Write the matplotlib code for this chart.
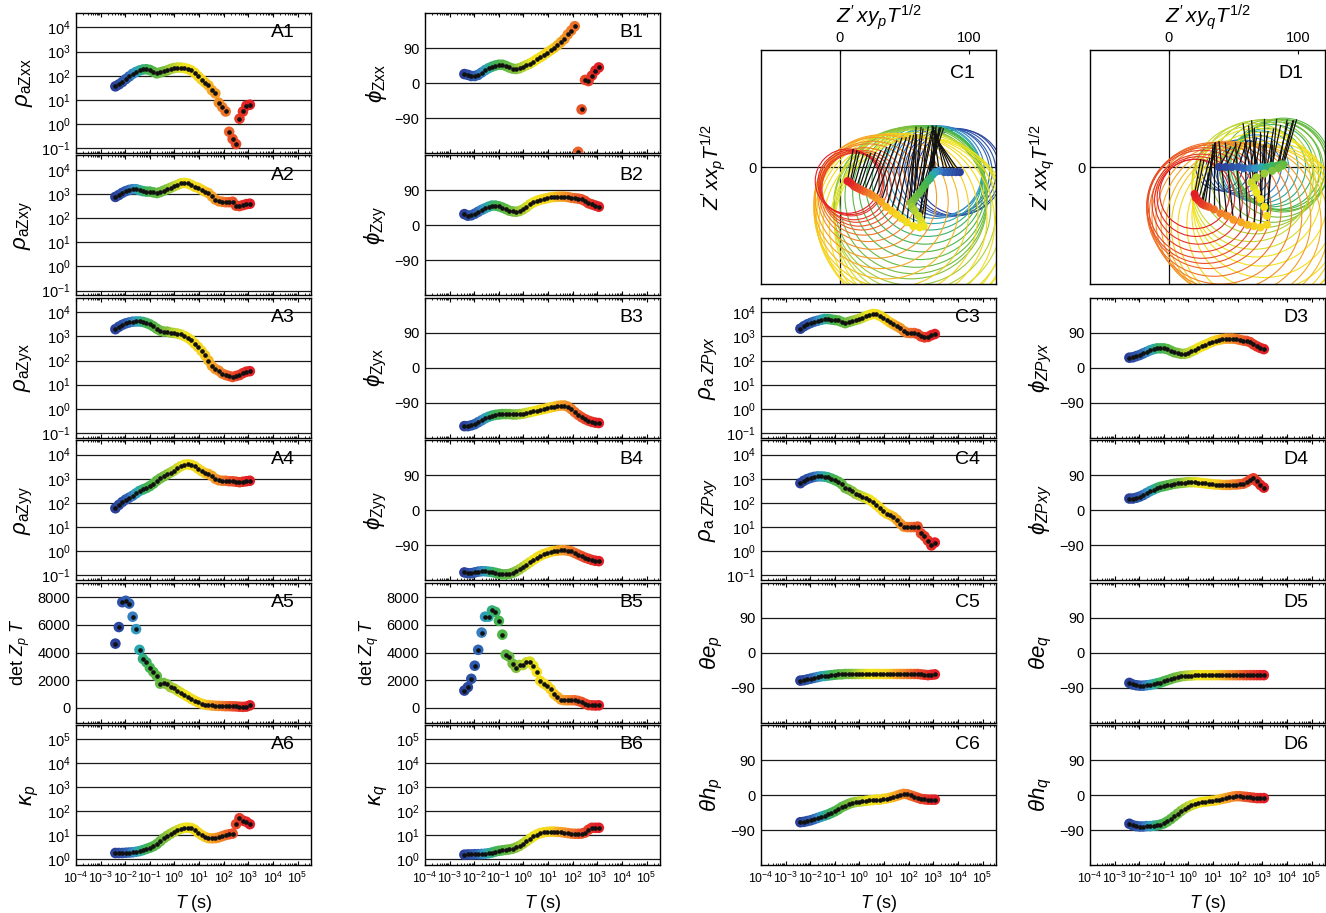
import numpy as np
import matplotlib as mpl
mpl.use("Agg")
import matplotlib.pyplot as plt
from matplotlib.colors import LinearSegmentedColormap
from matplotlib.patches import Circle
from matplotlib.ticker import LogLocator, NullLocator, NullFormatter, FixedLocator

mpl.rcParams.update(
    {
        "font.family": ["Liberation Sans", "DejaVu Sans"],
        "mathtext.fontset": "custom",
        "mathtext.rm": "Liberation Sans",
        "mathtext.it": "Liberation Sans:italic",
        "mathtext.bf": "Liberation Sans:bold",
        "mathtext.fallback": "cm",
        "xtick.direction": "in",
        "ytick.direction": "in",
        "xtick.top": True,
        "ytick.right": True,
        "xtick.labelsize": 8.9,
        "ytick.labelsize": 10.5,
        "axes.linewidth": 1.0,
    }
)

# ------------------------------------------------------------------
# data (log10 of period, then one list per panel)
# ------------------------------------------------------------------
log_T = [-2.40, -2.26, -2.12, -1.98, -1.84, -1.70, -1.56, -1.42, -1.28, -1.14,
         -1.00, -0.86, -0.72, -0.58, -0.44, -0.30, -0.16, -0.02, 0.12, 0.26,
         0.40, 0.54, 0.68, 0.82, 0.96, 1.10, 1.24, 1.38, 1.52, 1.66,
         1.80, 1.94, 2.08, 2.22, 2.36, 2.50, 2.64, 2.78, 2.92, 3.06]

# apparent resistivities, log10(ohm m)
rho_xx = [1.56, 1.64, 1.74, 1.86, 1.97, 2.08, 2.16, 2.22, 2.26, 2.27,
          2.24, 2.17, 2.10, 2.14, 2.18, 2.22, 2.28, 2.32, 2.34, 2.34,
          2.32, 2.28, 2.22, 2.12, 1.98, 1.84, 1.72, 1.60, 1.40, 1.27,
          0.88, 0.70, 0.52, -0.32, -0.62, -0.83, 0.22, 0.52, 0.76, 0.80]
rho_xy = [2.88, 2.96, 3.05, 3.12, 3.17, 3.20, 3.20, 3.16, 3.12, 3.10,
          3.10, 3.07, 3.04, 3.08, 3.14, 3.20, 3.26, 3.32, 3.38, 3.44,
          3.46, 3.44, 3.38, 3.30, 3.26, 3.18, 3.10, 3.04, 2.90, 2.77,
          2.70, 2.68, 2.66, 2.66, 2.68, 2.52, 2.50, 2.54, 2.58, 2.60]
rho_yx = [3.30, 3.40, 3.48, 3.54, 3.58, 3.61, 3.62, 3.62, 3.60, 3.56,
          3.50, 3.42, 3.32, 3.24, 3.20, 3.20, 3.16, 3.14, 3.12, 3.08,
          3.02, 2.94, 2.84, 2.70, 2.56, 2.40, 2.22, 2.00, 1.78, 1.65,
          1.58, 1.46, 1.40, 1.36, 1.32, 1.36, 1.40, 1.48, 1.54, 1.56]
rho_yy = [1.78, 1.92, 2.04, 2.14, 2.22, 2.30, 2.40, 2.50, 2.56, 2.62,
          2.70, 2.80, 2.92, 3.02, 3.10, 3.18, 3.26, 3.34, 3.44, 3.52,
          3.58, 3.60, 3.58, 3.52, 3.42, 3.32, 3.24, 3.20, 3.12, 3.00,
          2.94, 2.92, 2.92, 2.90, 2.90, 2.88, 2.86, 2.88, 2.90, 2.92]
det_Zp_T = [4650, 5850, 7650, 7750, 7550, 6600, 5700, 4200, 3550, 3300,
            2900, 2600, 2300, 1750, 1800, 1700, 1500, 1400, 1250, 1100,
            950, 800, 650, 520, 400, 300, 230, 200, 170, 150,
            140, 130, 120, 120, 110, 100, 80, 70, 90, 180]
kappa_p = [0.25, 0.25, 0.25, 0.26, 0.27, 0.28, 0.30, 0.33, 0.37, 0.42,
           0.47, 0.53, 0.62, 0.74, 0.86, 0.96, 1.05, 1.13, 1.20, 1.26,
           1.30, 1.31, 1.29, 1.22, 1.10, 1.00, 0.92, 0.87, 0.86, 0.87,
           0.90, 0.95, 1.00, 1.03, 1.06, 1.45, 1.70, 1.60, 1.55, 1.45]

# phases (degrees)
phi_xx = [23, 21, 18, 18, 21, 27, 33, 38, 42, 45,
          47, 47, 44, 40, 37, 36, 38, 42, 46, 50,
          55, 61, 66, 72, 78, 84, 90, 97, 105, 113,
          125, 135, 146, -177, -68, 8, 5, 19, 32, 40]
phi_xy = [29, 25, 26, 30, 35, 40, 44, 48, 51, 51,
          49, 46, 42, 38, 36, 35, 37, 41, 47, 54,
          59, 63, 66, 68, 70, 72, 73, 74, 74, 74,
          73, 71, 70, 69, 67, 63, 57, 54, 51, 48]
phi_yx = [-150, -150, -148, -145, -140, -135, -130, -126, -123, -121,
          -120, -119, -119, -119, -120, -120, -119, -118, -116, -114,
          -112, -110, -108, -106, -104, -102, -100, -98, -97, -97,
          -100, -106, -114, -121, -127, -132, -136, -139, -141, -142]
phi_yy = [-160, -162, -162, -160, -158, -157, -157, -158, -159, -161,
          -163, -165, -165, -164, -161, -157, -152, -146, -140, -134,
          -128, -122, -117, -113, -110, -107, -105, -104, -103, -103,
          -104, -106, -110, -114, -118, -122, -125, -128, -130, -131]
det_Zq_T = [1250, 1500, 2100, 3050, 4200, 5450, 6600, 6600, 7050, 6950,
            6300, 5300, 3850, 3700, 3200, 2900, 3100, 3100, 3300, 3350,
            3050, 2600, 1950, 1750, 1600, 1350, 1000, 800, 600, 550,
            550, 550, 550, 500, 420, 300, 200, 180, 170, 180]
kappa_q = [0.18, 0.19, 0.19, 0.20, 0.20, 0.21, 0.22, 0.24, 0.27, 0.31,
           0.34, 0.36, 0.38, 0.40, 0.43, 0.48, 0.55, 0.64, 0.74, 0.84,
           0.94, 1.02, 1.08, 1.11, 1.13, 1.14, 1.14, 1.13, 1.12, 1.10,
           1.08, 1.06, 1.05, 1.05, 1.06, 1.10, 1.22, 1.30, 1.30, 1.30]

rho_ZPyx = [3.32, 3.42, 3.50, 3.56, 3.61, 3.65, 3.69, 3.72, 3.72, 3.70,
            3.68, 3.66, 3.60, 3.55, 3.60, 3.64, 3.68, 3.72, 3.78, 3.84,
            3.89, 3.93, 3.92, 3.86, 3.78, 3.68, 3.58, 3.50, 3.42, 3.34,
            3.22, 3.15, 3.14, 3.14, 3.10, 3.00, 2.96, 2.98, 3.05, 3.10]
rho_ZPxy = [2.82, 2.92, 2.99, 3.04, 3.08, 3.10, 3.10, 3.09, 3.06, 3.01,
            2.95, 2.88, 2.78, 2.62, 2.56, 2.48, 2.38, 2.32, 2.26, 2.20,
            2.14, 2.04, 1.92, 1.80, 1.66, 1.56, 1.50, 1.42, 1.30, 1.14,
            1.02, 1.00, 1.00, 1.00, 1.02, 0.74, 0.62, 0.44, 0.24, 0.36]
theta_ep = [-72, -71, -69, -67, -65, -63, -61, -60, -59, -58,
            -57, -56, -56, -55, -55, -55, -55, -55, -55, -55,
            -55, -55, -55, -55, -55, -55, -55, -55, -55, -55,
            -55, -55, -55, -55, -55, -56, -57, -58, -57, -56]
theta_hp = [-70, -69, -67, -65, -62, -59, -56, -53, -50, -46,
            -42, -37, -31, -27, -23, -20, -18, -17, -16, -15,
            -14, -13, -12, -12, -10, -9, -7, -5, -2, 1,
            3, 2, -1, -4, -7, -10, -11, -12, -12, -12]

phi_ZPyx = [26, 27, 30, 33, 37, 41, 45, 48, 50, 50,
            50, 48, 44, 40, 38, 36, 36, 38, 42, 46,
            51, 55, 59, 63, 67, 70, 72, 74, 75, 75,
            75, 74, 72, 70, 69, 66, 60, 55, 51, 48]
phi_ZPxy = [30, 30, 32, 35, 39, 44, 49, 53, 57, 60,
            62, 64, 66, 68, 69, 70, 71, 72, 72, 72,
            71, 70, 69, 68, 67, 66, 66, 65, 65, 65,
            66, 66, 67, 68, 72, 78, 82, 74, 65, 58]
theta_eq = [-78, -82, -84, -85, -85, -84, -83, -81, -79, -77,
            -74, -71, -68, -65, -63, -61, -60, -59, -59, -58,
            -58, -58, -58, -58, -58, -58, -58, -58, -58, -58,
            -58, -58, -58, -58, -58, -58, -58, -58, -58, -58]
theta_hq = [-74, -78, -80, -81, -81, -80, -80, -79, -78, -76,
            -73, -68, -62, -55, -48, -41, -35, -30, -26, -23,
            -20, -18, -17, -16, -15, -14, -12, -10, -8, -6,
            -4, -3, -3, -4, -5, -6, -7, -8, -8, -8]

# circle diagrams: centre x, centre y, radius, direction of radius line (deg)
c1_cx = [93, 90, 87, 84, 81, 77, 74, 72, 70, 68, 66, 64, 62, 59, 57, 55, 56, 58, 61, 63,
         65, 62, 57, 52, 48, 44, 40, 36, 32, 28, 25, 22, 19, 17, 15, 13, 11, 9, 8, 6]
c1_cy = [-4, -4, -4, -4, -4, -3, -4, -6, -9, -11, -14, -17, -20, -23, -26, -28, -31, -34, -38, -42,
         -46, -47, -46, -43, -40, -37, -34, -31, -27, -24, -22, -20, -19, -18, -17, -16, -15, -13, -12, -11]
c1_r = [33, 34, 34, 34, 35, 35, 36, 38, 40, 43, 46, 49, 52, 55, 57, 59, 61, 63, 65, 67,
        69, 70, 70, 68, 66, 63, 60, 56, 52, 47, 42, 38, 34, 31, 29, 27, 26, 25, 25, 25]
c1_ang = [125, 120, 114, 108, 102, 98, 94, 86, 80, 76, 72, 74, 78, 80, 84, 86, 82, 78, 76, 80,
          84, 86, 88, 84, 80, 78, 76, 74, 72, 70, 70, 68, 68, 70, 72, 72, 74, 76, 78, 80]

d1_cx = [39, 44, 49, 54, 58, 63, 67, 72, 76, 80, 84, 87, 89, 88, 85, 80, 74, 68, 64, 66,
         68, 71, 74, 76, 76, 71, 66, 61, 56, 50, 45, 40, 35, 31, 28, 26, 25, 23, 21, 20]
d1_cy = [0, 0, 0, 0, -1, -1, -1, 0, 0, 1, 1, 2, 2, 1, -1, -3, -5, -8, -12, -16,
         -20, -25, -31, -38, -45, -47, -46, -45, -43, -41, -38, -36, -33, -31, -30, -29, -28, -26, -24, -21]
d1_r = [18, 19, 20, 21, 22, 24, 26, 28, 30, 32, 34, 35, 36, 36, 38, 40, 42, 44, 46, 48,
        50, 52, 55, 58, 62, 64, 64, 63, 62, 60, 58, 55, 52, 48, 45, 42, 38, 34, 30, 27]
d1_ang = [60, 65, 70, 72, 75, 78, 80, 80, 80, 78, 76, 75, 74, 76, 80, 85, 90, 95, 98, 95,
          92, 90, 88, 86, 86, 88, 90, 92, 94, 96, 96, 94, 90, 86, 82, 78, 75, 75, 78, 80]

# ------------------------------------------------------------------
T = 10.0 ** np.array(log_T)
cmap = LinearSegmentedColormap.from_list(
    "period",
    [(0.00, "#2a3f98"), (0.10, "#2f62b5"), (0.14, "#3a8dc8"), (0.17, "#27a6b8"),
     (0.20, "#2fae84"), (0.26, "#46b549"), (0.38, "#7cbf3d"), (0.45, "#bcd630"),
     (0.52, "#f2e61b"), (0.66, "#f6d11f"), (0.72, "#f6a623"), (0.80, "#f17f29"),
     (0.88, "#ea4e27"), (1.00, "#e21f26")],
)
colors = cmap(np.linspace(0, 1, len(T)))

W, H = 1326, 913
fig = plt.figure(figsize=(W / 100, H / 100), dpi=100)

COL_LEFT = {"A": 76, "B": 425, "C": 761, "D": 1090}
PANEL_W = 235
ROW_TOP0, ROW_PITCH, ROW_H = 13, 142.4, 140
GRID_KW = dict(color="#1a1a1a", lw=0.9)


def make_axes(left, top, w, h):
    return fig.add_axes([left / W, 1 - (top + h) / H, w / W, h / H])


def time_axes(col, row, bottom=False):
    ax = make_axes(COL_LEFT[col], ROW_TOP0 + ROW_PITCH * row, PANEL_W, ROW_H)
    ax.set_xscale("log")
    ax.set_xlim(1e-4, 3.5e5)
    ax.xaxis.set_major_locator(LogLocator(base=10, numticks=20))
    ax.xaxis.set_minor_locator(LogLocator(base=10, subs=np.arange(2, 10), numticks=20))
    ax.tick_params(axis="x", which="major", length=3, width=0.8, pad=4)
    ax.tick_params(axis="x", which="minor", length=1.6, width=0.6)
    ax.tick_params(axis="y", length=0, pad=4)
    if bottom:
        ax.set_xlabel(r"$T$ (s)", fontsize=13, labelpad=5)
    else:
        ax.xaxis.set_major_formatter(NullFormatter())
    ax.xaxis.set_minor_formatter(NullFormatter())
    ax.text(0.93, 0.86, f"{col}{row + 1}", transform=ax.transAxes,
            ha="right", va="center", fontsize=14)
    return ax


def plot_series(ax, vals, log=False):
    y = 10.0 ** np.array(vals) if log else np.array(vals)
    ax.scatter(T, y, s=58, c=colors, edgecolors="none", zorder=3)
    ax.plot(T, y, ls="none", marker="o", ms=2.3, color="#111111", zorder=4)


def style_log(ax, lo, hi, ylabel):
    ax.set_yscale("log")
    ax.set_ylim(lo, hi)
    ax.yaxis.set_major_locator(LogLocator(base=10, numticks=20))
    ax.yaxis.set_minor_locator(NullLocator())
    ax.yaxis.grid(True, **GRID_KW)
    ax.set_axisbelow(True)
    ax.set_ylabel(ylabel, fontsize=16)


def style_phase(ax, ylabel):
    ax.set_ylim(-180, 180)
    ax.yaxis.set_major_locator(FixedLocator([-90, 0, 90]))
    ax.yaxis.grid(True, **GRID_KW)
    ax.set_axisbelow(True)
    ax.set_ylabel(ylabel, fontsize=16)


def style_det(ax, ylabel):
    ax.set_ylim(-1070, 9070)
    ax.yaxis.set_major_locator(FixedLocator([0, 2000, 4000, 6000, 8000]))
    ax.yaxis.grid(True, **GRID_KW)
    ax.set_axisbelow(True)
    ax.set_ylabel(ylabel, fontsize=13)


RHO_LIM = (10 ** -1.2, 10 ** 4.6)
KAPPA_LIM = (10 ** -0.25, 10 ** 5.58)

# column A
for row, (vals, lab) in enumerate([(rho_xx, r"$\rho_{\mathrm{aZxx}}$"),
                                   (rho_xy, r"$\rho_{\mathrm{aZxy}}$"),
                                   (rho_yx, r"$\rho_{\mathrm{aZyx}}$"),
                                   (rho_yy, r"$\rho_{\mathrm{aZyy}}$")]):
    ax = time_axes("A", row)
    plot_series(ax, vals, log=True)
    style_log(ax, *RHO_LIM, lab)
ax = time_axes("A", 4)
plot_series(ax, det_Zp_T)
style_det(ax, r"det $Z_p$ $T$")
ax = time_axes("A", 5, bottom=True)
plot_series(ax, kappa_p, log=True)
style_log(ax, *KAPPA_LIM, r"$\kappa_p$")

# column B
for row, (vals, lab) in enumerate([(phi_xx, r"$\phi_{\mathrm{Zxx}}$"),
                                   (phi_xy, r"$\phi_{\mathrm{Zxy}}$"),
                                   (phi_yx, r"$\phi_{\mathrm{Zyx}}$"),
                                   (phi_yy, r"$\phi_{\mathrm{Zyy}}$")]):
    ax = time_axes("B", row)
    plot_series(ax, vals)
    style_phase(ax, lab)
ax = time_axes("B", 4)
plot_series(ax, det_Zq_T)
style_det(ax, r"det $Z_q$ $T$")
ax = time_axes("B", 5, bottom=True)
plot_series(ax, kappa_q, log=True)
style_log(ax, *KAPPA_LIM, r"$\kappa_q$")

# columns C and D, lower panels
ax = time_axes("C", 2)
plot_series(ax, rho_ZPyx, log=True)
style_log(ax, *RHO_LIM, r"$\rho_{\mathrm{a}\ ZPyx}$")
ax = time_axes("C", 3)
plot_series(ax, rho_ZPxy, log=True)
style_log(ax, *RHO_LIM, r"$\rho_{\mathrm{a}\ ZPxy}$")
ax = time_axes("C", 4)
plot_series(ax, theta_ep)
style_phase(ax, r"$\theta e_p$")
ax = time_axes("C", 5, bottom=True)
plot_series(ax, theta_hp)
style_phase(ax, r"$\theta h_p$")

for row, (vals, lab) in enumerate([(phi_ZPyx, r"$\phi_{ZPyx}$"),
                                   (phi_ZPxy, r"$\phi_{ZPxy}$"),
                                   (theta_eq, r"$\theta e_q$"),
                                   (theta_hq, r"$\theta h_q$")], start=2):
    ax = time_axes("D", row, bottom=(row == 5))
    plot_series(ax, vals)
    style_phase(ax, lab)


# circle diagrams
def circle_panel(col, cx, cy, r, ang, sub):
    ax = make_axes(COL_LEFT[col], 50, PANEL_W, 234)
    ax.set_xlim(-61, 121)
    ax.set_ylim(-91, 91)
    ax.axhline(0, color="#111111", lw=0.9, zorder=1)
    ax.axvline(0, color="#111111", lw=0.9, zorder=1)
    for i in range(len(cx)):
        ax.add_patch(Circle((cx[i], cy[i]), r[i], fill=False, ec=colors[i], lw=0.8, zorder=2))
    for i in range(len(cx)):
        a = np.deg2rad(ang[i])
        ax.plot([cx[i], cx[i] + r[i] * np.cos(a)], [cy[i], cy[i] + r[i] * np.sin(a)],
                color="#111111", lw=0.9, zorder=3)
    ax.scatter(cx, cy, s=34, c=colors, edgecolors="none", zorder=4)
    ax.xaxis.tick_top()
    ax.xaxis.set_label_position("top")
    ax.set_xticks([0, 100])
    ax.set_yticks([0])
    ax.tick_params(axis="both", length=3, width=0.8, top=True, bottom=False, right=False,
                   labelsize=10.5)
    ax.set_xlabel(rf"$Z'\,xy_{sub}T^{{1/2}}$", fontsize=15, labelpad=6)
    ax.set_ylabel(rf"$Z'\,xx_{sub}T^{{1/2}}$", fontsize=15, labelpad=14)
    ax.text(0.91, 0.9, f"{col}1", transform=ax.transAxes, ha="right", va="center",
            fontsize=14)
    return ax


circle_panel("C", c1_cx, c1_cy, c1_r, c1_ang, "p")
circle_panel("D", d1_cx, d1_cy, d1_r, d1_ang, "q")

fig.savefig("out.png", dpi=100)
